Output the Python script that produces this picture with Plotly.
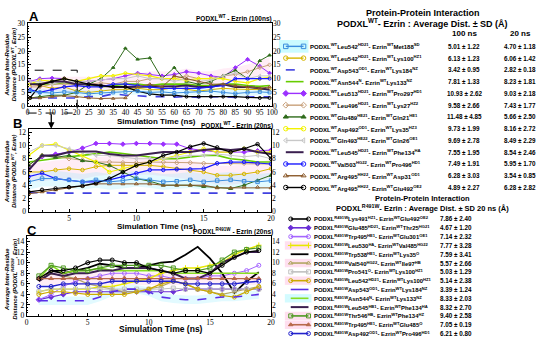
import plotly.graph_objects as go

# ---------------- data ----------------
time_a = [1, 5, 10, 15, 20, 25, 30, 35, 40, 45, 50, 55, 60, 65, 70, 75, 80, 85, 90, 95, 99]
a_met188 = [5.5, 5.0, 4.8, 5.2, 5.0, 4.5, 4.8, 5.0, 5.2, 5.5, 5.0, 5.2, 4.8, 5.0, 5.3, 5.5, 5.0, 4.6, 5.0, 5.2, 5.0]
a_lys100 = [8.0, 7.5, 6.5, 7.0, 5.5, 5.0, 5.5, 6.0, 6.0, 6.5, 6.0, 6.0, 6.8, 6.2, 5.5, 6.0, 6.5, 6.2, 6.0, 6.0, 6.2]
a_lys184 = [3.0, 3.0, 3.0, 3.2, 3.0, 3.5, 3.5, 4.5, 4.0, 3.8, 3.5, 3.5, 3.3, 3.5, 3.2, 3.4, 3.5, 3.2, 3.4, 3.5, 3.4]
a_lys133 = [8.0, 8.2, 8.0, 8.5, 8.0, 7.8, 7.0, 7.5, 8.0, 8.0, 7.5, 8.0, 8.0, 8.0, 7.5, 7.5, 8.0, 8.0, 7.5, 7.2, 7.5]
a_pro297 = [9.0, 10.0, 10.2, 10.0, 9.0, 9.0, 9.5, 10.0, 11.0, 12.0, 11.5, 11.0, 11.5, 12.5, 12.0, 11.0, 10.5, 14.0, 17.0, 14.5, 12.0]
a_lys27 = [7.0, 7.0, 8.0, 8.0, 8.0, 8.0, 8.5, 8.0, 9.0, 9.0, 10.0, 10.0, 10.0, 11.0, 10.0, 10.0, 11.0, 11.5, 12.5, 14.0, 15.0]
a_gln21 = [3.0, 3.5, 4.0, 4.0, 5.0, 8.0, 10.0, 14.0, 21.0, 17.0, 17.5, 10.0, 14.0, 9.0, 8.0, 9.0, 11.0, 13.0, 10.0, 16.5, 18.5]
a_lys35 = [8.0, 9.5, 9.0, 10.0, 9.0, 10.0, 11.0, 11.0, 12.0, 11.5, 11.0, 10.0, 10.0, 9.5, 10.0, 10.0, 10.0, 9.0, 8.5, 10.0, 10.5]
a_gln26 = [9.0, 9.0, 8.0, 9.0, 9.0, 9.0, 9.5, 10.0, 10.0, 11.0, 10.0, 10.0, 9.0, 10.0, 9.0, 9.5, 11.0, 12.0, 10.0, 11.0, 11.0]
a_phe134 = [8.0, 8.0, 9.0, 9.0, 8.0, 8.0, 7.5, 7.0, 7.0, 7.0, 7.0, 7.0, 7.2, 7.5, 7.0, 7.0, 8.0, 7.0, 7.0, 6.5, 6.0]
a_pro496 = [6.0, 5.0, 6.0, 7.0, 7.5, 7.0, 7.0, 8.0, 8.0, 7.5, 7.0, 6.5, 6.5, 6.5, 6.5, 7.0, 7.5, 10.0, 10.0, 10.0, 10.0]
a_asp31 = [3.0, 3.0, 3.5, 3.8, 3.5, 3.0, 2.8, 2.8, 3.0, 7.0, 8.0, 7.0, 11.0, 10.0, 9.0, 8.0, 8.0, 7.5, 7.0, 6.5, 7.0]
a_glu492 = [3.0, 7.5, 9.0, 10.0, 9.0, 8.0, 7.5, 7.0, 7.0, 5.5, 4.5, 4.0, 4.0, 3.5, 3.5, 3.5, 3.5, 3.5, 3.2, 3.0, 3.0]

time_b = [2, 3, 4, 5, 6, 7, 8, 9, 10, 11, 12, 13, 14, 15, 16, 17, 18, 19, 20]
b_met188 = [4.5, 5.0, 5.0, 4.8, 4.5, 4.8, 4.5, 4.7, 5.0, 4.8, 4.5, 4.6, 4.8, 4.5, 4.7, 4.8, 4.6, 4.5, 4.7]
b_lys100 = [6.0, 6.0, 6.3, 6.5, 6.3, 6.8, 7.0, 7.0, 7.0, 7.0, 6.8, 6.5, 6.2, 6.0, 5.5, 5.5, 5.7, 6.0, 6.5]
b_lys184 = [2.9, 2.8, 2.8, 2.8, 2.8, 2.8, 2.8, 2.8, 2.8, 2.8, 2.8, 2.8, 2.8, 2.8, 2.8, 2.8, 2.8, 2.8, 2.8]
b_lys133 = [7.5, 7.8, 8.0, 8.3, 8.5, 8.7, 9.0, 8.8, 8.5, 8.3, 8.0, 8.0, 8.3, 8.5, 8.5, 8.0, 7.8, 7.5, 7.5]
b_pro297 = [6.5, 8.3, 8.7, 9.0, 9.6, 10.3, 10.3, 10.2, 10.3, 10.3, 10.2, 10.2, 9.5, 9.2, 9.0, 9.0, 9.0, 9.2, 9.3]
b_lys27 = [7.0, 8.5, 8.3, 8.0, 7.8, 7.5, 7.5, 7.4, 7.4, 7.5, 7.5, 7.4, 7.4, 7.3, 7.3, 7.3, 7.3, 7.2, 7.2]
b_gln21 = [7.0, 8.5, 8.2, 8.5, 7.7, 7.5, 7.0, 6.0, 5.0, 4.6, 4.0, 4.0, 4.0, 3.8, 3.7, 3.5, 4.0, 4.7, 5.5]
b_lys35 = [8.5, 10.0, 10.2, 9.3, 8.5, 7.5, 6.0, 6.5, 7.0, 7.5, 8.0, 8.5, 9.0, 9.5, 9.0, 9.0, 9.5, 9.0, 9.0]
b_gln26 = [9.0, 10.0, 10.0, 9.5, 9.0, 8.5, 8.5, 8.3, 8.0, 8.0, 8.0, 8.3, 8.5, 8.5, 8.7, 8.5, 8.3, 8.5, 8.0]
b_phe134 = [6.3, 8.5, 8.5, 9.0, 9.1, 9.1, 8.7, 8.5, 8.5, 8.7, 9.0, 9.0, 9.0, 9.3, 9.5, 9.3, 9.5, 9.0, 8.7]
b_pro496 = [5.3, 5.8, 5.0, 4.8, 4.5, 4.5, 4.8, 5.3, 5.8, 6.3, 6.3, 6.4, 6.4, 6.5, 7.3, 7.5, 7.5, 7.3, 7.2]
b_asp31 = [2.7, 3.0, 3.3, 3.7, 3.9, 4.2, 4.2, 4.2, 4.2, 4.2, 4.0, 4.0, 4.0, 4.0, 3.6, 3.6, 3.7, 3.7, 3.6]
b_glu492 = [3.0, 3.3, 3.5, 3.7, 3.9, 4.3, 5.0, 6.0, 7.0, 7.5, 8.5, 9.0, 9.8, 10.3, 9.7, 9.0, 9.5, 10.2, 8.0]

time_c = [1, 2, 3, 4, 5, 6, 7, 8, 9, 10, 11, 12, 13, 14, 15, 16, 17, 18, 19]
c_glu492 = [7.0, 8.5, 8.5, 9.0, 10.0, 10.5, 10.5, 10.0, 10.0, 9.0, 8.5, 8.0, 8.5, 8.5, 8.0, 9.5, 11.0, 12.0, 12.3]
c_thr25 = [3.0, 3.5, 4.0, 4.5, 4.5, 4.5, 4.6, 4.5, 4.5, 4.5, 4.6, 4.5, 5.0, 5.0, 5.0, 5.0, 5.0, 5.0, 5.0]
c_glu301 = [3.0, 4.0, 5.5, 6.5, 7.0, 7.5, 8.0, 8.0, 8.0, 7.5, 7.5, 7.0, 7.0, 7.0, 7.5, 7.5, 8.0, 8.5, 9.5]
c_val485 = [4.5, 5.0, 5.0, 5.0, 5.0, 5.5, 5.5, 6.0, 6.5, 7.0, 8.0, 8.5, 9.0, 9.0, 9.5, 10.0, 11.5, 12.5, 13.3]
c_lys35 = [6.5, 8.5, 8.0, 8.5, 9.0, 9.8, 9.5, 9.0, 9.0, 9.5, 10.0, 10.2, 11.5, 13.0, 10.8, 8.0, 4.3, 6.5, 8.2]
c_ile97 = [7.0, 8.0, 7.5, 7.0, 6.0, 5.5, 5.0, 4.5, 4.5, 5.0, 5.5, 6.5, 6.0, 5.0, 4.5, 4.0, 4.5, 5.0, 5.5]
c_lys100g = [4.5, 5.0, 5.0, 5.0, 5.2, 5.0, 5.0, 5.0, 5.0, 5.0, 5.0, 5.2, 5.0, 5.0, 5.0, 5.0, 5.0, 5.0, 5.0]
c_lys100 = [4.0, 4.5, 4.5, 4.2, 4.0, 4.0, 4.0, 4.0, 4.5, 5.0, 6.0, 6.5, 6.0, 5.0, 4.5, 3.8, 3.5, 4.5, 5.5]
c_lys184 = [2.8, 2.8, 2.8, 2.7, 2.8, 3.5, 4.5, 5.0, 5.0, 4.5, 3.5, 3.2, 3.0, 3.0, 3.2, 3.5, 3.5, 3.8, 4.0]
c_lys133 = [7.0, 9.5, 8.0, 8.5, 8.5, 9.0, 8.5, 8.5, 8.5, 8.5, 8.5, 8.0, 8.0, 8.0, 8.0, 8.0, 8.0, 8.0, 8.0]
c_phe134 = [6.5, 8.0, 7.5, 8.0, 8.0, 8.5, 8.5, 9.0, 9.0, 9.0, 8.5, 8.0, 7.0, 7.0, 8.0, 10.0, 11.0, 12.0, 12.0]
c_phe134z = [7.5, 9.5, 9.0, 8.5, 8.5, 9.0, 9.5, 9.5, 9.5, 9.5, 9.5, 9.0, 8.5, 8.5, 9.0, 10.5, 12.0, 12.5, 12.8]
c_glu485 = [7.0, 7.0, 7.0, 7.0, 7.0, 7.0, 7.0, 7.1, 7.0, 7.0, 7.0, 7.0, 7.0, 7.1, 7.0, 7.0, 7.0, 7.0, 7.0]
c_pro496 = [5.5, 5.5, 6.0, 6.0, 6.0, 6.0, 6.5, 6.5, 6.5, 6.5, 6.5, 6.5, 6.0, 6.0, 6.0, 6.0, 6.0, 6.3, 6.5]

wt_labels = [
    "PODXL<sup>WT</sup>Leu542<sup>HD21</sup>- Ezrin<sup>WT</sup>Met188<sup>SD</sup>",
    "PODXL<sup>WT</sup>Leu542<sup>HD21</sup>- Ezrin<sup>WT</sup>Lys100<sup>HZ1</sup>",
    "PODXL<sup>WT</sup>Asp543<sup>OD1</sup>- Ezrin<sup>WT</sup>Lys184<sup>NZ</sup>",
    "PODXL<sup>WT</sup>Asn544<sup>N</sup>- Ezrin<sup>WT</sup>Lys133<sup>NZ</sup>",
    "PODXL<sup>WT</sup>Leu513<sup>HD21</sup>- Ezrin<sup>WT</sup>Pro297<sup>HD1</sup>",
    "PODXL<sup>WT</sup>Leu496<sup>HD21</sup>- Ezrin<sup>WT</sup>Lys27<sup>HZ2</sup>",
    "PODXL<sup>WT</sup>Glu489<sup>HE21</sup>- Ezrin<sup>WT</sup>Gln21<sup>HE1</sup>",
    "PODXL<sup>WT</sup>Asp492<sup>OD1</sup>- Ezrin<sup>WT</sup>Lys35<sup>HZ3</sup>",
    "PODXL<sup>WT</sup>Gln493<sup>HE22</sup>- Ezrin<sup>WT</sup>Gln26<sup>OE1</sup>",
    "PODXL<sup>WT</sup>Leu545<sup>HD21</sup>- Ezrin<sup>WT</sup>Phe134<sup>HA</sup>",
    "PODXL<sup>WT</sup>Val503<sup>HG22</sup>- Ezrin<sup>WT</sup>Pro496<sup>HD1</sup>",
    "PODXL<sup>WT</sup>Arg495<sup>HH22</sup>- Ezrin<sup>WT</sup>Asp31<sup>OD1</sup>",
    "PODXL<sup>WT</sup>Arg495<sup>HH22</sup>- Ezrin<sup>WT</sup>Glu492<sup>OE2</sup>",
]
wt_avg_100 = ["5.01 ± 1.22", "6.13 ± 1.23", "3.42 ± 0.95", "7.81 ± 1.33", "10.93 ± 2.62", "9.58 ± 2.66",
              "11.48 ± 4.85", "9.73 ± 1.99", "9.69 ± 2.78", "7.55 ± 1.95", "7.49 ± 1.91", "6.28 ± 3.03", "4.89 ± 2.27"]
wt_avg_20 = ["4.70 ± 1.18", "6.06 ± 1.42", "2.82 ± 0.18", "8.23 ± 1.81", "9.03 ± 2.18", "7.43 ± 1.77",
             "5.66 ± 2.50", "8.16 ± 2.72", "8.49 ± 2.29", "8.54 ± 2.46", "5.95 ± 1.70", "3.54 ± 0.85", "6.28 ± 2.82"]

mut_labels = [
    "PODXL<sup>R491W</sup>Lys491<sup>HZ1</sup>- Ezrin<sup>WT</sup>Glu492<sup>OE2</sup>",
    "PODXL<sup>R491W</sup>Glu485<sup>HD21</sup>- Ezrin<sup>WT</sup>Thr25<sup>HG21</sup>",
    "PODXL<sup>R491W</sup>Trp495<sup>HE1</sup>- Ezrin<sup>WT</sup>Glu301<sup>OE1</sup>",
    "PODXL<sup>R491W</sup>Leu530<sup>HA</sup>- Ezrin<sup>WT</sup>Val485<sup>HG22</sup>",
    "PODXL<sup>R491W</sup>Trp538<sup>HE1</sup>- Ezrin<sup>WT</sup>Lys35<sup>O</sup>",
    "PODXL<sup>R491W</sup>Val540<sup>HG22</sup>- Ezrin<sup>WT</sup>Ile97<sup>HB</sup>",
    "PODXL<sup>R491W</sup>Pro541<sup>O</sup>- Ezrin<sup>WT</sup>Lys100<sup>HZ1</sup>",
    "PODXL<sup>R491W</sup>Leu542<sup>HD21</sup>- Ezrin<sup>WT</sup>Lys100<sup>HZ1</sup>",
    "PODXL<sup>R491W</sup>Asp543<sup>OD1</sup>- Ezrin<sup>WT</sup>Lys184<sup>NZ</sup>",
    "PODXL<sup>R491W</sup>Asn544<sup>N</sup>- Ezrin<sup>WT</sup>Lys133<sup>NZ</sup>",
    "PODXL<sup>R491W</sup>Leu545<sup>HB1</sup>- Ezrin<sup>WT</sup>Phe134<sup>HA</sup>",
    "PODXL<sup>R491W</sup>Thr546<sup>HB</sup>- Ezrin<sup>WT</sup>Phe134<sup>HZ</sup>",
    "PODXL<sup>R491W</sup>Trp495<sup>HE1</sup>- Ezrin<sup>WT</sup>Glu485<sup>O</sup>",
    "PODXL<sup>R491W</sup>Asp492<sup>OD1</sup>- Ezrin<sup>WT</sup>Pro496<sup>HD1</sup>",
]
mut_avg_20 = ["7.86 ± 2.40", "4.67 ± 1.20", "7.14 ± 2.32", "7.77 ± 3.28", "7.59 ± 3.41", "5.57 ± 2.66", "5.03 ± 1.29",
              "5.14 ± 2.38", "3.39 ± 1.24", "8.33 ± 2.03", "8.32 ± 2.70", "9.40 ± 2.58", "7.05 ± 0.19", "6.21 ± 0.80"]

series_a = [a_met188, a_lys100, a_lys184, a_lys133, a_pro297, a_lys27, a_gln21, a_lys35, a_gln26, a_phe134, a_pro496, a_asp31, a_glu492]
series_b = [b_met188, b_lys100, b_lys184, b_lys133, b_pro297, b_lys27, b_gln21, b_lys35, b_gln26, b_phe134, b_pro496, b_asp31, b_glu492]
series_c = [c_glu492, c_thr25, c_glu301, c_val485, c_lys35, c_ile97, c_lys100g, c_lys100, c_lys184, c_lys133, c_phe134, c_phe134z, c_glu485, c_pro496]

# ---------------- styles ----------------
wt_styles = [
    dict(color="#3c8dde", width=1.0, dash="solid", symbol="square-open"),
    dict(color="#d6b600", width=1.0, dash="solid", symbol="circle-open"),
    dict(color="#4040e0", width=1.6, dash="dash", symbol=None),
    dict(color="#66cc00", width=1.6, dash="solid", symbol=None),
    dict(color="#9b30ff", width=1.0, dash="solid", symbol="diamond"),
    dict(color="#c8a07a", width=1.0, dash="solid", symbol="diamond-open"),
    dict(color="#2e6b1a", width=1.0, dash="solid", symbol="triangle-up"),
    dict(color="#f2f200", width=1.2, dash="solid", symbol="circle-open"),
    dict(color="#c8c8c8", width=1.0, dash="solid", symbol="triangle-left-open"),
    dict(color="#3a1f4f", width=2.0, dash="solid", symbol=None),
    dict(color="#1a1aff", width=1.2, dash="solid", symbol="circle-open"),
    dict(color="#8b5a2b", width=1.0, dash="solid", symbol="triangle-up-open"),
    dict(color="#000000", width=1.2, dash="solid", symbol="circle-open"),
]
mut_styles = [
    dict(color="#000000", width=1.2, dash="solid", symbol="circle-open"),
    dict(color="#6a2fd6", width=1.2, dash="solid", symbol="diamond"),
    dict(color="#a566ff", width=1.0, dash="solid", symbol="circle-open"),
    dict(color="#e8e800", width=1.4, dash="solid", symbol="cross-thin-open"),
    dict(color="#000000", width=1.8, dash="solid", symbol=None),
    dict(color="#b3a764", width=1.2, dash="solid", symbol="triangle-up-open"),
    dict(color="#c0c0c0", width=1.0, dash="solid", symbol="square-open"),
    dict(color="#ccaa00", width=1.2, dash="solid", symbol="circle-open"),
    dict(color="#5a2ee8", width=1.6, dash="dash", symbol=None),
    dict(color="#88dd22", width=1.6, dash="solid", symbol=None),
    dict(color="#3a1f4f", width=2.0, dash="solid", symbol=None),
    dict(color="#4f9a22", width=1.2, dash="solid", symbol="square-open"),
    dict(color="#b8694a", width=1.2, dash="solid", symbol="triangle-up"),
    dict(color="#2222cc", width=1.4, dash="solid", symbol="circle-open"),
]

W, H = 550, 342


def px(xp):
    return xp / W


def py(yp):
    return 1 - yp / H


fig = go.Figure()


def add_series(x, y, st, xa, ya, msize=3.5):
    mode = "lines+markers" if st["symbol"] else "lines"
    fig.add_trace(go.Scatter(
        x=x, y=y, mode=mode, xaxis=xa, yaxis=ya, showlegend=False, hoverinfo="skip",
        line=dict(color=st["color"], width=st["width"], dash=st["dash"]),
        marker=dict(symbol=st["symbol"] or "circle", size=msize, color=st["color"],
                    line=dict(color=st["color"], width=1)),
    ))


def add_band(x, y, sd, color, xa, ya):
    lo = [v - sd for v in y]
    hi = [v + sd for v in y]
    fig.add_trace(go.Scatter(x=x, y=lo, mode="lines", line=dict(width=0), xaxis=xa, yaxis=ya,
                             showlegend=False, hoverinfo="skip"))
    fig.add_trace(go.Scatter(x=x, y=hi, mode="lines", line=dict(width=0), fill="tonexty",
                             fillcolor=color, xaxis=xa, yaxis=ya, showlegend=False, hoverinfo="skip"))


PINK = "rgba(255,140,200,0.16)"
CYAN = "rgba(110,230,255,0.2)"

# bands
add_band(time_a, a_lys27, 2.66, PINK, "x", "y")
add_band(time_a, a_met188, 1.22, CYAN, "x", "y")
add_band(time_b, b_lys100, 1.42, PINK, "x2", "y2")
add_band(time_b, b_met188, 1.18, CYAN, "x2", "y2")
add_band(time_c, c_glu485, 1.2, PINK, "x3", "y3")
add_band(time_c, c_lys184, 0.8, CYAN, "x3", "y3")

# panel lines
for i, (s, st) in enumerate(zip(series_a, wt_styles)):
    add_series(time_a, s, st, "x", "y4" if i == 0 else "y", msize=3)
for i, (s, st) in enumerate(zip(series_b, wt_styles)):
    add_series(time_b, s, st, "x2", "y5" if i == 0 else "y2", msize=3.5)
for i, (s, st) in enumerate(zip(series_c, mut_styles)):
    add_series(time_c, s, st, "x3", "y6" if i == 0 else "y3", msize=4)

# legend samples in the right-hand tables (pixel axes)
top_row0, top_step = 43.5, 12.08
bot_row0, bot_step = 220.8, 9.05
for i, st in enumerate(wt_styles):
    yy = top_row0 + i * top_step
    add_series([288, 306], [yy, yy], dict(st, width=max(st["width"], 1.4)), "x7", "y7", msize=4.5)
for i, st in enumerate(mut_styles):
    yy = bot_row0 + i * bot_step
    s2 = dict(st, dash="solid", width=max(st["width"], 1.6))
    add_series([293, 311], [yy, yy], s2, "x7", "y7", msize=4)

# ---------------- axes ----------------
tickfont = dict(family="Liberation Serif", size=7.5, color="black")
common = dict(showgrid=False, zeroline=False, showline=True, linecolor="black", linewidth=1,
              mirror=True, ticks="inside", ticklen=3, tickcolor="black", tickfont=tickfont)
xcommon = dict(common, ticklabelstandoff=-1)

fig.update_layout(
    width=W, height=H, margin=dict(l=0, r=0, t=0, b=0),
    paper_bgcolor="white", plot_bgcolor="rgba(0,0,0,0)",
    xaxis=dict(domain=[px(26), px(274)], range=[0, 100], dtick=5, anchor="y",
               minor=dict(ticks="inside", ticklen=1.5, dtick=1, tickcolor="black"), **xcommon),
    yaxis=dict(domain=[py(105), py(20)], range=[0, 30], dtick=5, anchor="x",
               minor=dict(ticks="inside", ticklen=1.5, dtick=1, tickcolor="black"), **common),
    xaxis2=dict(domain=[px(27), px(273)], range=[2, 20], tick0=0, dtick=5, anchor="y2",
                minor=dict(ticks="inside", ticklen=1.5, dtick=1, tickcolor="black"), **xcommon),
    yaxis2=dict(domain=[py(213.3), py(128.3)], range=[0, 12.5], dtick=2, anchor="x2",
                minor=dict(ticks="inside", ticklen=1.5, dtick=0.5, tickcolor="black"), **common),
    xaxis3=dict(domain=[px(25), px(273)], range=[0, 20], dtick=5, anchor="y3",
                minor=dict(ticks="inside", ticklen=1.5, dtick=1, tickcolor="black"), **xcommon),
    yaxis3=dict(domain=[py(320), py(238.5)], range=[0, 15], dtick=2, anchor="x3",
                minor=dict(ticks="inside", ticklen=1.5, dtick=0.5, tickcolor="black"), **common),
    yaxis4=dict(overlaying="y", side="right", anchor="x", range=[0, 30], dtick=5, showgrid=False,
                zeroline=False, showline=False, ticks="", tickfont=tickfont),
    yaxis5=dict(overlaying="y2", side="right", anchor="x2", range=[0, 12.5], dtick=2, showgrid=False,
                zeroline=False, showline=False, ticks="", tickfont=tickfont),
    yaxis6=dict(overlaying="y3", side="right", anchor="x3", range=[0, 15], dtick=2, showgrid=False,
                zeroline=False, showline=False, ticks="", tickfont=tickfont),
    xaxis7=dict(domain=[px(280), 1], range=[280, 550], visible=False, anchor="y7"),
    yaxis7=dict(domain=[0, 1], range=[342, 0], visible=False, anchor="x7"),
)

# ---------------- shapes ----------------
shapes = [
    dict(type="rect", xref="x", yref="paper", x0=0, x1=20.3, y0=py(112), y1=py(68),
         line=dict(color="black", width=1, dash="dash"), fillcolor="rgba(0,0,0,0)"),
    dict(type="rect", xref="paper", yref="paper", x0=px(281), x1=px(311), y0=py(50), y1=py(37),
         fillcolor="rgba(190,250,255,0.8)", line=dict(width=0), layer="below"),
]
for r in [3, 5, 7, 11, 12]:
    yy = bot_row0 + r * bot_step
    shapes.append(dict(type="rect", xref="paper", yref="paper", x0=px(287), x1=px(314),
                       y0=py(yy + 4.3), y1=py(yy - 4.3), fillcolor="rgba(255,215,235,0.8)",
                       line=dict(width=0), layer="below"))
shapes.append(dict(type="rect", xref="paper", yref="paper", x0=px(287), x1=px(314),
                   y0=py(bot_row0 + 9 * bot_step + 4.3), y1=py(bot_row0 + 9 * bot_step - 4.3),
                   fillcolor="rgba(200,250,255,0.8)", line=dict(width=0), layer="below"))
fig.update_layout(shapes=shapes)

# ---------------- annotations ----------------
ann = []


def text(x, y, s, size, xanchor="center", family="Liberation Sans", angle=0, color="black"):
    ann.append(dict(x=px(x), y=py(y), xref="paper", yref="paper", text=s, showarrow=False,
                    xanchor=xanchor, yanchor="middle", textangle=angle,
                    font=dict(family=family, size=size, color=color)))


text(32, 13, "<b>A</b>", 13)
text(16, 123, "<b>B</b>", 13)
text(30, 233, "<b>C</b>", 13)
text(276, 15, "<b>PODXL<sup>WT</sup> - Ezrin (100ns)</b>", 6.5, xanchor="right")
text(277, 125, "<b>PODXL<sup>WT</sup> - Ezrin (20ns)</b>", 6.5, xanchor="right")
text(277, 234, "<b>PODXL<sup>R491W</sup> - Ezrin (20ns)</b>", 6.5, xanchor="right")
text(157, 120.5, "<b>Simulation Time (ns)</b>", 8)
text(157, 228, "<b>Simulation Time (ns)</b>", 8)
text(161, 334, "<b>Simulation Time (ns)</b>", 8.5)
ytitle_wt = "<b><i>Average Inter-Residue<br>Distance (PODXL<sup>WT</sup>, Ezrin)</i></b>"
ytitle_mut = "<b><i>Average Inter-Residue<br>Distance (PODXL<sup>R491W</sup>, Ezrin)</i></b>"
text(9, 62, ytitle_wt, 5.8, angle=-90)
text(9.5, 172, ytitle_wt, 5.8, angle=-90)
text(9, 282, ytitle_mut, 5.8, angle=-90)

text(427, 9, "<b>Protein-Protein Interaction</b>", 9)
text(427, 19, "<b>PODXL<sup>WT</sup>- Ezrin : Average Dist. ± SD (Å)</b>", 9)
text(469, 30.5, "<b>100 ns</b>", 8)
text(526, 30.5, "<b>20 ns</b>", 8)
for i, lab in enumerate(wt_labels):
    yy = top_row0 + i * top_step
    text(311, yy, "<b>" + lab + "</b>", 6.0, xanchor="left")
    text(469, yy, "<b>" + wt_avg_100[i] + "</b>", 6.3)
    text(526, yy, "<b>" + wt_avg_20[i] + "</b>", 6.3)

text(427, 199.5, "<b>Protein-Protein Interaction</b>", 7.5)
text(427, 209, "<b>PODXL<sup>R491W</sup>- Ezrin : Average Dist. ± SD 20 ns (Å)</b>", 7.5)
for i, lab in enumerate(mut_labels):
    yy = bot_row0 + i * bot_step
    text(315, yy, "<b>" + lab + "</b>", 5.9, xanchor="left")
    text(461, yy, "<b>" + mut_avg_20[i] + "</b>", 6.3)

# arrow from zoom box to panel B
ann.append(dict(x=px(50), y=py(128), xref="paper", yref="paper", text="", showarrow=True,
                arrowhead=2, arrowsize=1, arrowwidth=1.3, arrowcolor="black", ax=0, ay=-16))

fig.update_layout(annotations=ann)

fig.write_html("out.html", config={"displayModeBar": False},
               post_script="document.body.style.margin='0';document.body.style.padding='0';"
                           "document.body.style.overflow='hidden';")
